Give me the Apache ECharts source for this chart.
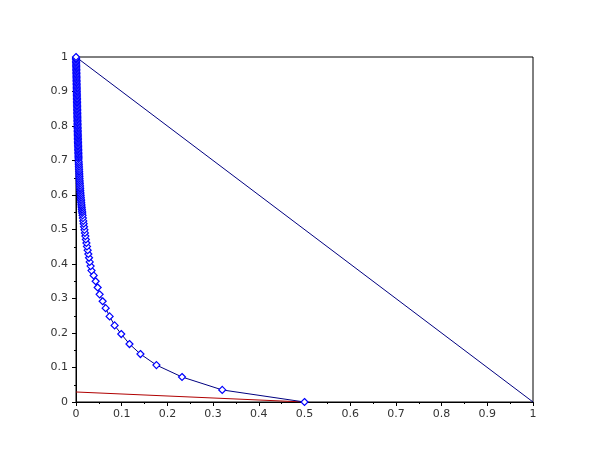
<!DOCTYPE html>
<html><head><meta charset="utf-8">
<script src="https://cdn.jsdelivr.net/npm/echarts@6/dist/echarts.min.js"></script>
<style>html,body{margin:0;padding:0;background:#fff}#c{width:610px;height:460px}</style>
</head><body><div id="c"></div>
<script>
// Curve with diamond markers (x, y)
var curveX = [0.5, 0.32, 0.232, 0.176, 0.141, 0.117, 0.099, 0.0845, 0.0736, 0.0649, 0.0583, 0.0517, 0.0474, 0.043, 0.0386,
  0.034, 0.032, 0.030, 0.0285, 0.027, 0.0255, 0.024, 0.0228, 0.0216, 0.0205, 0.0195, 0.0185, 0.0176, 0.0167, 0.0159, 0.0151,
  0.0144, 0.0137,
  0.0133, 0.0129, 0.0125, 0.0121, 0.0118, 0.0114, 0.0111, 0.0108, 0.0105, 0.0102, 0.0099, 0.0096, 0.0093, 0.0091, 0.0088,
  0.0086, 0.0083, 0.0081, 0.0079, 0.0077, 0.0075, 0.0073, 0.0071, 0.0069, 0.0067, 0.0065, 0.0063, 0.0062, 0.0060, 0.0058,
  0.0056, 0.0055, 0.0054, 0.0053, 0.0052, 0.0051, 0.0050, 0.0049, 0.0048, 0.0047, 0.0046, 0.0045, 0.0044, 0.0043, 0.0042,
  0.0041, 0.0041, 0.0040, 0.0039, 0.0038, 0.0037, 0.0037, 0.0036, 0.0035, 0.0034, 0.0034, 0.0033, 0.0032, 0.0031, 0.0031,
  0.0030, 0.0029, 0.0029, 0.0028, 0.0027, 0.0027, 0.0026, 0.0025, 0.0025, 0.0024, 0.0023, 0.0023, 0.0022, 0.0021, 0.0021,
  0.0020, 0.0019, 0.0019, 0.0018, 0.0017, 0.0017, 0.0016, 0.0015, 0.0015, 0.0014, 0.0013, 0.0013, 0.0012, 0.0011, 0.0011,
  0.0010, 0.0009, 0.0009, 0.0008, 0.0007, 0.0007, 0.0006, 0.0005, 0.0004, 0.0004, 0.0003, 0.0002, 0.0002, 0.0001, 0];
var curveY = [0, 0.035, 0.0725, 0.107, 0.139, 0.168, 0.197, 0.222, 0.248, 0.272, 0.292, 0.312, 0.332, 0.35, 0.367,
  0.381, 0.394, 0.406, 0.418, 0.429, 0.440, 0.451, 0.461, 0.471, 0.481, 0.490, 0.499, 0.508, 0.517, 0.525, 0.533,
  0.541, 0.548,
  0.553, 0.558, 0.563, 0.568, 0.573, 0.578, 0.583, 0.588, 0.593, 0.598, 0.603, 0.608, 0.613, 0.618, 0.623,
  0.628, 0.633, 0.638, 0.643, 0.648, 0.653, 0.658, 0.663, 0.668, 0.673, 0.678, 0.683, 0.688, 0.693, 0.698,
  0.704, 0.708, 0.712, 0.716, 0.720, 0.724, 0.728, 0.732, 0.736, 0.740, 0.744, 0.748, 0.752, 0.756, 0.760,
  0.764, 0.768, 0.772, 0.776, 0.780, 0.784, 0.788, 0.792, 0.796, 0.800, 0.804, 0.808, 0.812, 0.816, 0.820,
  0.824, 0.828, 0.832, 0.836, 0.840, 0.844, 0.848, 0.852, 0.856, 0.860, 0.864, 0.868, 0.872, 0.876, 0.880,
  0.884, 0.888, 0.892, 0.896, 0.900, 0.904, 0.908, 0.912, 0.916, 0.920, 0.924, 0.928, 0.932, 0.936, 0.940,
  0.944, 0.948, 0.952, 0.956, 0.960, 0.964, 0.968, 0.972, 0.976, 0.980, 0.984, 0.988, 0.992, 0.996, 1.0];
// Straight diagonal line
var diagX = [0, 1];
var diagY = [1, 0];
// Red line
var redX = [0, 0.5];
var redY = [0.029, 0];

function zip(a, b) { return a.map(function (v, i) { return [v, b[i]]; }); }

var chart = echarts.init(document.getElementById('c'), null, {renderer: 'canvas'});
var axisCommon = {
  type: 'value', min: 0, max: 1, interval: 0.1,
  axisLine: {show: true, lineStyle: {color: '#000', width: 1}},
  axisTick: {show: true, inside: false, length: 4, lineStyle: {color: '#000'}},
  minorTick: {show: true, splitNumber: 2, length: 2, lineStyle: {color: '#000'}},
  splitLine: {show: false},
  axisLabel: {color: '#333', fontSize: 11, fontFamily: 'DejaVu Sans', margin: 8,
    formatter: function (v) { return String(Math.round(v * 10) / 10); }}
};
chart.setOption({
  animation: false,
  backgroundColor: '#fff',
  grid: {left: 76, right: 77, top: 57, bottom: 58, show: true, borderColor: '#000', borderWidth: 1},
  xAxis: Object.assign({}, axisCommon, {axisLabel: Object.assign({}, axisCommon.axisLabel, {margin: 7})}),
  yAxis: Object.assign({}, axisCommon),
  series: [
    {type: 'line', data: zip(diagX, diagY), symbol: 'none', lineStyle: {color: '#000080', width: 1}},
    {type: 'line', data: zip(redX, redY), symbol: 'none', lineStyle: {color: '#b00000', width: 1}},
    {type: 'line', data: zip(curveX, curveY), showAllSymbol: true, symbol: 'diamond', symbolSize: 7,
      itemStyle: {color: '#fff', borderColor: '#0000ff', borderWidth: 1.2},
      lineStyle: {color: '#000080', width: 1}}
  ]
});
</script></body></html>
